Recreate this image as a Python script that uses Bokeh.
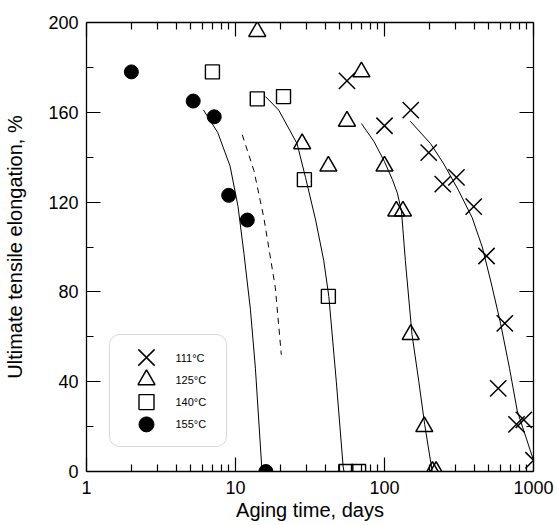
from bokeh.plotting import figure
from bokeh.models import (LogAxis, LinearAxis, FixedTicker, BoxAnnotation, Range1d,
                          LinearScale, CustomJSTickFormatter, NumeralTickFormatter)
from bokeh.core.properties import value
from bokeh.embed import file_html
from bokeh.resources import INLINE

# ---- data ----
t111 = [56, 100, 150, 198, 246, 304, 397, 484, 580, 642, 769, 861, 1000]
e111 = [174, 154, 161, 142, 128, 131, 118, 96, 37, 66, 21, 23, 5]

t125 = [14, 28, 42, 56, 70, 100, 120, 133, 150, 185, 210, 222]
e125 = [196, 146, 136, 156, 178, 136, 116, 116, 61, 20, 0, 0]

t140 = [7.0, 14.0, 21.0, 29.0, 42.0, 55.0, 67.0]
e140 = [178, 166, 167, 130, 78, 0, 0]

t155 = [2.0, 5.2, 7.2, 9.0, 12.0, 16.0]
e155 = [178, 165, 158, 123, 112, 0]

# fitted curves
c111_t = [149, 204, 250, 315, 388, 453, 520, 601, 690, 778, 1000]
c111_e = [156, 146, 137, 125, 113, 100, 84, 66, 46, 27, 5]
c125_t = [70, 85, 100, 113, 122, 130, 138, 153, 170, 186, 209]
c125_e = [155, 147, 138, 130, 124, 116, 94, 61, 40, 21, 0]
c140_t = [15.9, 19.5, 25.9, 29.5, 34.5, 39.1, 42.3, 47.5, 52.8, 53.5]
c140_e = [167, 161, 146, 131, 112, 94, 78, 40, 2, 0]
c155_t = [6.1, 7.6, 9.2, 10.4, 11.4, 12.6, 13.6, 15.0, 15.2]
c155_e = [161, 151, 136, 118, 97, 72, 46, 2, 0]
dash_t = [11.1, 13.3, 15.5, 18.5, 20.3]
dash_e = [150, 134, 113, 82, 52]

x_major = [1, 10, 100, 1000]
x_minor = [2, 3, 4, 5, 6, 7, 8, 9, 20, 30, 40, 50, 60, 70, 80, 90,
           200, 300, 400, 500, 600, 700, 800, 900]
y_major = [0, 40, 80, 120, 160, 200]
y_minor = [20, 60, 100, 140, 180]

labels = ["111°C", "125°C", "140°C", "155°C"]

FONT = "Liberation Sans"

# ---- layout constants (pixels) ----
FRAME_W, FRAME_H = 447, 449
LEG_LEFT, LEG_RIGHT, LEG_BOTTOM, LEG_TOP = 23, 140, 25, 137
LEG_SYM_X, LEG_TXT_X = 60, 89
LEG_ROW0, LEG_ROW_STEP = 114, 22.3

p = figure(width=557, height=525, x_axis_type="log", x_range=(1, 1000), y_range=(0, 200),
           output_backend="svg", toolbar_location=None,
           min_border_left=86, min_border_right=24, min_border_top=22, min_border_bottom=54)
p.outline_line_color = None
p.xgrid.visible = False
p.ygrid.visible = False

# pixel-space range for the legend block
p.extra_x_ranges["lg"] = Range1d(0, FRAME_W)
p.extra_y_ranges["lg"] = Range1d(0, FRAME_H)
p.extra_x_scales["lg"] = LinearScale()
p.extra_y_scales["lg"] = LinearScale()

# curves
for ct, ce in [(c111_t, c111_e), (c125_t, c125_e), (c140_t, c140_e), (c155_t, c155_e)]:
    p.line(ct, ce, line_color="black", line_width=1)
p.line(dash_t, dash_e, line_color="black", line_width=1, line_dash="6 5")

# markers
MARK = dict(
    x=dict(marker="x", size=23, line_color="black", line_width=1.5),
    tri=dict(marker="triangle", size=17, line_color="black", fill_color=None, line_width=1.5),
    sq=dict(marker="square", size=14, line_color="black", fill_color=None, line_width=1.4),
    ci=dict(marker="circle", size=14, line_color="black", fill_color="black", line_width=1),
)
p.scatter(t111, e111, **MARK["x"])
p.scatter(t125, e125, **MARK["tri"])
p.scatter(t140, e140, **MARK["sq"])
p.scatter(t155, e155, **MARK["ci"])

xt = FixedTicker(ticks=x_major, minor_ticks=x_minor)
yt = FixedTicker(ticks=y_major, minor_ticks=y_minor)


def style_axis(ax):
    ax.axis_line_color = "black"
    ax.axis_line_width = 1.3
    ax.major_tick_line_color = "black"
    ax.minor_tick_line_color = "black"
    ax.major_tick_line_width = 1.2
    ax.minor_tick_line_width = 1.2
    ax.major_tick_in = 14
    ax.major_tick_out = 0
    ax.minor_tick_in = 7
    ax.minor_tick_out = 0
    ax.major_label_text_font = FONT
    ax.major_label_text_font_size = "18px"
    ax.major_label_text_color = "black"
    ax.axis_label_text_font = FONT
    ax.axis_label_text_font_size = "20px"
    ax.axis_label_text_font_style = "normal"
    ax.axis_label_text_color = "black"


xa = p.xaxis[0]
xa.ticker = xt
xa.formatter = NumeralTickFormatter(format="0")
style_axis(xa)
xa.major_label_standoff = 9
xa.axis_label = "Aging time, days"
xa.axis_label_standoff = 2

ya = p.yaxis[0]
ya.ticker = yt
style_axis(ya)
ya.major_label_standoff = 8
ya.axis_label = "Ultimate tensile elongation, %"
ya.axis_label_standoff = 19

empty = CustomJSTickFormatter(code="return ''")
top = LogAxis(ticker=FixedTicker(ticks=x_major, minor_ticks=x_minor), formatter=empty)
style_axis(top)
top.major_label_text_font_size = "1px"
top.major_label_standoff = 0
p.add_layout(top, "above")

right = LinearAxis(ticker=FixedTicker(ticks=y_major, minor_ticks=y_minor), formatter=empty)
style_axis(right)
right.major_label_text_font_size = "1px"
right.major_label_standoff = 0
p.add_layout(right, "right")

# ---- legend block (drawn in pixel space) ----
box = BoxAnnotation(left=LEG_LEFT, right=LEG_RIGHT, bottom=LEG_BOTTOM, top=LEG_TOP,
                    x_range_name="lg", y_range_name="lg",
                    fill_color=None, fill_alpha=0,
                    line_color="#808080", line_width=1)
if "border_radius" in BoxAnnotation.properties():
    box.border_radius = 10
p.add_layout(box)

leg_sizes = {"x": 23, "tri": 17, "sq": 15, "ci": 15}
for i, (key, lab) in enumerate(zip(["x", "tri", "sq", "ci"], labels)):
    ry = LEG_ROW0 - i * LEG_ROW_STEP
    kw = dict(MARK[key])
    kw["size"] = leg_sizes[key]
    p.scatter([LEG_SYM_X], [ry], x_range_name="lg", y_range_name="lg", **kw)
    p.text([LEG_TXT_X], [ry], text=[lab], x_range_name="lg", y_range_name="lg",
           text_font=value(FONT), text_font_size="11px", text_color="black",
           text_baseline="middle", text_align="left")

open("out.html", "w").write(file_html(p, INLINE))
